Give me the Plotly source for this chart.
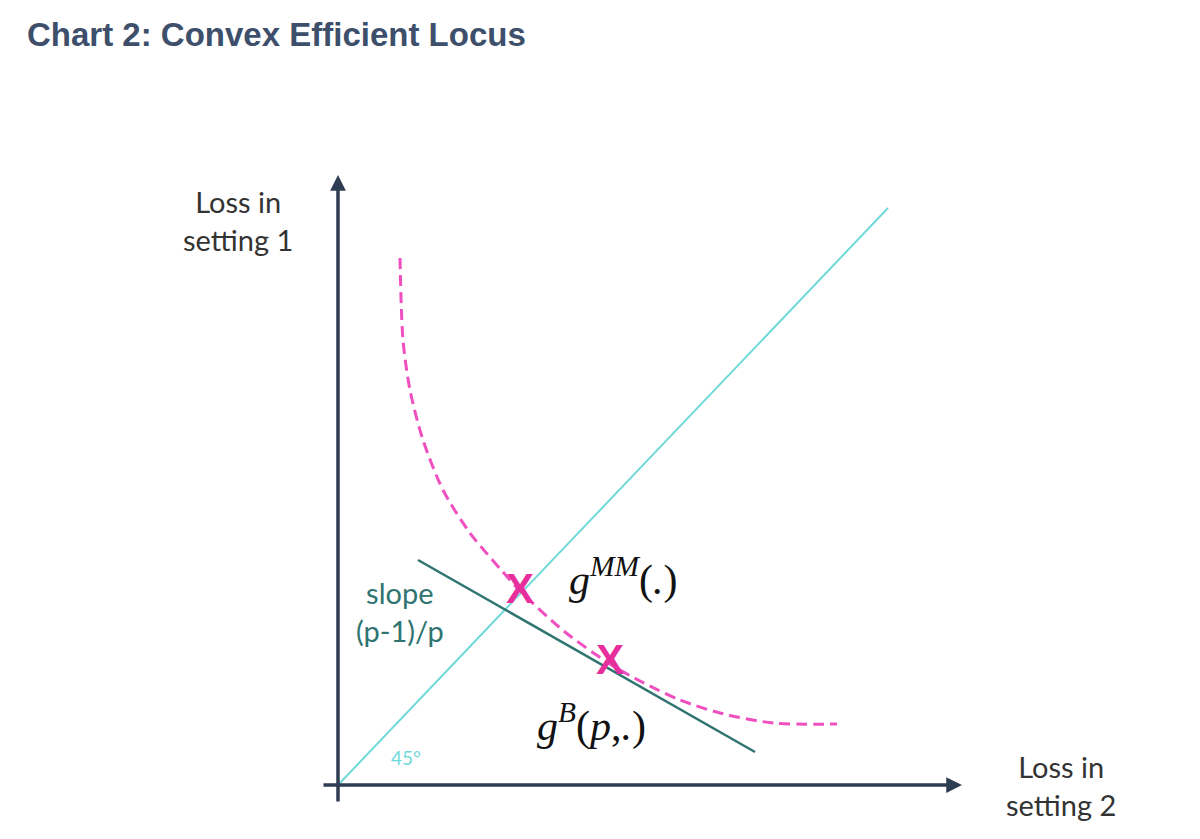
import plotly.graph_objects as go

# locus of efficient losses (setting 2, setting 1)
locus_x = [0.62, 0.65, 0.72, 0.85, 1.05, 1.32, 1.72, 1.82, 2.27, 2.72, 3.02, 3.42, 3.82, 4.35, 4.99]
locus_y = [5.27, 4.45, 3.95, 3.45, 2.95, 2.52, 2.05, 1.94, 1.53, 1.21, 1.04, 0.85, 0.72, 0.62, 0.61]

# 45 degree ray
diag_x = [0.0, 5.50]
diag_y = [0.0, 5.77]

# tangent with slope (p-1)/p
tangent_x = [0.80, 4.17]
tangent_y = [2.25, 0.33]

# minimax and Bayes points
point_x = [1.82, 2.72]
point_y = [1.93, 1.22]

AXIS_COLOR = "#2f3d52"
PINK = "#f04fc0"
MAGENTA = "#e62e9c"
CYAN = "#6fd9d9"
TEAL = "#2f7470"
LABEL_FONT = "Lato"

# page body has an 8px margin, so the figure is a bit smaller than the window
W, H = 1184, 823

fig = go.Figure()

fig.add_trace(go.Scatter(
    x=diag_x, y=diag_y, mode="lines",
    line=dict(color=CYAN, width=2), hoverinfo="skip",
))
fig.add_trace(go.Scatter(
    x=locus_x, y=locus_y, mode="lines",
    line=dict(color=PINK, width=3, dash="11px,6px", shape="spline", smoothing=0.8),
    hoverinfo="skip",
))
fig.add_trace(go.Scatter(
    x=tangent_x, y=tangent_y, mode="lines",
    line=dict(color=TEAL, width=2.5), hoverinfo="skip",
))
fig.add_trace(go.Scatter(
    x=point_x, y=point_y, mode="text", text=["X", "X"],
    textfont=dict(family="Liberation Sans", size=42, color=MAGENTA, weight="bold"),
    textposition="middle center", hoverinfo="skip",
))

# axes with arrowheads
fig.add_annotation(x=0, y=6.10, ax=0, ay=-0.18, xref="x", yref="y", axref="x", ayref="y",
                   showarrow=True, arrowhead=2, arrowsize=0.9, arrowwidth=3.5,
                   arrowcolor=AXIS_COLOR, text="")
fig.add_annotation(x=6.24, y=0, ax=-0.16, ay=0, xref="x", yref="y", axref="x", ayref="y",
                   showarrow=True, arrowhead=2, arrowsize=0.9, arrowwidth=3.5,
                   arrowcolor=AXIS_COLOR, text="")

labels = [
    (-1.00, 5.65, "Loss in<br>setting 1", "#333333", 29),
    (7.23, 0.0, "Loss in<br>setting 2", "#333333", 29),
    (0.62, 1.74, "slope<br>(p-1)/p", TEAL, 29),
    (0.68, 0.28, "45°", CYAN, 19),
]
for lx, ly, txt, col, sz in labels:
    fig.add_annotation(x=lx, y=ly, xref="x", yref="y", text=txt, showarrow=False,
                       font=dict(family=LABEL_FONT, size=sz, color=col),
                       align="center", xanchor="center", yanchor="middle")

fig.add_annotation(x=2.85, y=2.08, xref="x", yref="y",
                   text="<i>g</i><sup><i>MM</i></sup>(<i>.</i>)", showarrow=False,
                   font=dict(family="Liberation Serif", size=42, color="#111111"),
                   xanchor="center", yanchor="middle")
fig.add_annotation(x=2.53, y=0.62, xref="x", yref="y",
                   text="<i>g</i><sup><i>B</i></sup>(<i>p</i>,<i>.</i>)", showarrow=False,
                   font=dict(family="Liberation Serif", size=42, color="#111111"),
                   xanchor="center", yanchor="middle")

fig.add_annotation(x=17 / W, y=1 - 27 / H, xref="paper", yref="paper",
                   text="<b>Chart 2: Convex Efficient Locus</b>", showarrow=False,
                   font=dict(family="Liberation Sans", size=33, color="#3d4f6b"),
                   xanchor="left", yanchor="middle")

fig.update_layout(
    width=W, height=H,
    margin=dict(l=0, r=0, t=0, b=0),
    paper_bgcolor="white", plot_bgcolor="white",
    showlegend=False,
    xaxis=dict(range=[-3.30, 8.54], visible=False, fixedrange=True),
    yaxis=dict(range=[-0.46, 7.77], visible=False, fixedrange=True),
)

fig.write_html("out.html")
